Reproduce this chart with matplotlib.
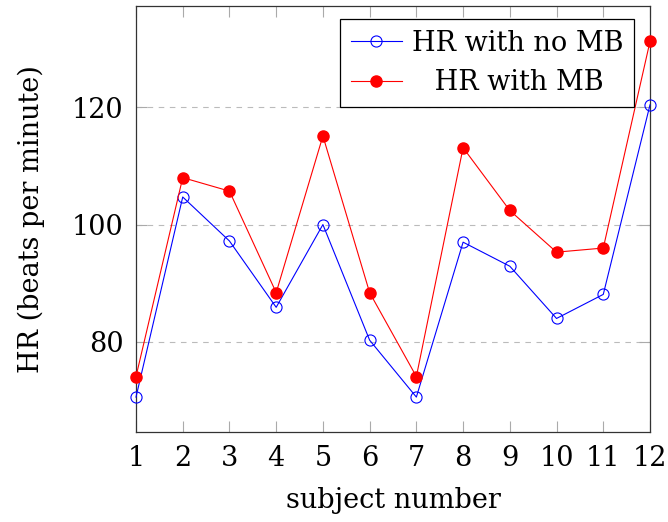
import matplotlib.pyplot as plt

plt.rcParams['font.family'] = ['DejaVu Serif']

subjects = [1, 2, 3, 4, 5, 6, 7, 8, 9, 10, 11, 12]
hr_no_mb = [70.6, 104.7, 97.2, 85.9, 100.0, 80.3, 70.6, 97.0, 92.9, 84.0, 88.1, 120.4]
hr_mb = [74.1, 108.0, 105.7, 88.4, 115.1, 88.4, 74.1, 113.1, 102.4, 95.3, 96.0, 131.2]
labels = ['HR with no MB', '  \u2009HR with MB']  # second one centred like the original

fig = plt.figure(figsize=(6.68, 5.22), dpi=100)
ax = fig.add_axes([136 / 668, 1 - 432.3 / 522, (650 - 136) / 668, (432.3 - 5.7) / 522])

ax.plot(subjects, hr_no_mb, label=labels[0], color='blue', linewidth=0.8,
        marker='o', markersize=8, markerfacecolor='none', markeredgewidth=0.8,
        clip_on=False, zorder=3)
ax.plot(subjects, hr_mb, label=labels[1], color='red', linewidth=0.8,
        marker='o', markersize=8, clip_on=False, zorder=4)

ax.set_xlim(1, 12)
ax.set_ylim(64.6, 137.3)
ax.set_xticks(subjects)
ax.set_yticks([80, 100, 120])
ax.yaxis.grid(True, linestyle=(0, (5, 5)), color='#bbbbbb', linewidth=0.8)
ax.tick_params(direction='in', length=8, width=0.8, color='#aaaaaa',
               top=True, right=True, labelsize=19.5, pad=9)
for s in ax.spines.values():
    s.set_color('#333333')
    s.set_linewidth(0.9)

ax.set_xlabel('subject number', fontsize=19.5, labelpad=11)
ax.set_ylabel('HR (beats per minute)', fontsize=19.5, labelpad=19)

leg = ax.legend(loc='upper right', fontsize=19.5, frameon=True, fancybox=False,
                edgecolor='black', framealpha=1, borderpad=0.4, handlelength=1.9,
                handletextpad=0.35, labelspacing=0.45, borderaxespad=0,
                bbox_to_anchor=(634 / 668, 1 - 19 / 522),
                bbox_transform=fig.transFigure)
leg.get_frame().set_linewidth(0.9)

fig.savefig('out.png', dpi=100)
